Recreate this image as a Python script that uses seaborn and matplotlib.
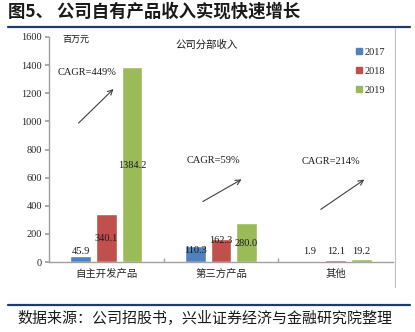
import matplotlib
matplotlib.use("Agg")
import matplotlib.pyplot as plt
import seaborn as sns
import pandas as pd
from matplotlib.lines import Line2D

# Segment revenue (million yuan)
categories = ["自主开发产品", "第三方产品", "其他"]
years = ["2017", "2018", "2019"]
rev_2017 = [45.9, 110.3, 1.9]
rev_2018 = [340.1, 162.3, 12.1]
rev_2019 = [1384.2, 280.0, 19.2]
cagr_labels = ["CAGR=449%", "CAGR=59%", "CAGR=214%"]
y_ticks = [0, 200, 400, 600, 800, 1000, 1200, 1400, 1600]

colors = ["#4F81BD", "#C0504D", "#9BBB59"]

rows = []
for yr, vals in zip(years, [rev_2017, rev_2018, rev_2019]):
    for cat, v in zip(categories, vals):
        rows.append({"类别": cat, "年份": yr, "收入": v})
df = pd.DataFrame(rows)

sns.set_theme(style="white")
plt.rcParams["font.family"] = ["Noto Sans CJK SC", "DejaVu Sans"]
serif = ["Liberation Serif", "Noto Sans CJK SC"]

fig = plt.figure(figsize=(4.15, 3.32), dpi=100)
ax = fig.add_axes([49 / 415, 1 - 262 / 332, 344 / 415, 225 / 332])

sns.barplot(data=df, x="类别", y="收入", hue="年份", order=categories,
            hue_order=years, palette=colors, width=0.67, gap=0.2,
            saturation=1, ax=ax, legend=False)

ax.set_xlim(-0.5, 2.5)
ax.set_ylim(0, 1600)
ax.set_yticks(y_ticks)
ax.set_yticklabels([str(t) for t in y_ticks], family=serif, fontsize=7.5)
ax.set_xticks(range(len(categories)))
ax.set_xticklabels(categories, fontsize=7.5)
ax.set_xticks([0.5, 1.5], minor=True)
ax.tick_params(axis="x", which="major", length=0, pad=5)
ax.tick_params(axis="x", which="minor", direction="in", length=3,
               color="#A0A0A0", bottom=True)
ax.tick_params(axis="y", which="major", direction="out", length=3,
               color="#A0A0A0", left=True, pad=2)
ax.set_xlabel("")
ax.set_ylabel("")
for side in ["top", "right"]:
    ax.spines[side].set_visible(False)
for side in ["left", "bottom"]:
    ax.spines[side].set_color("#A0A0A0")
    ax.spines[side].set_linewidth(1.0)

# Value labels: each bar's own value, placed per bar
label_y = [
    [45.9, 85, 78],      # 2017
    [170, 150, 78],      # 2018
    [683, 135, 78],      # 2019
]
label_va = [
    ["bottom", "center", "center"],
    ["center", "center", "center"],
    ["center", "center", "center"],
]
for hi, cont in enumerate(ax.containers):
    for ci, bar in enumerate(cont):
        cx = bar.get_x() + bar.get_width() / 2
        val = bar.get_height()
        ax.text(cx, label_y[hi][ci], f"{val:.1f}", ha="center",
                va=label_va[hi][ci], fontsize=7.5, family=serif,
                color="#1A1A1A")

# Growth annotations
cagr_text_pos = [(-0.17, 1351), (0.93, 725), (1.96, 718)]
arrow_from = [(-0.26, 974), (0.82, 420), (1.85, 363)]
arrow_to = [(0.08, 1244), (1.20, 597), (2.27, 597)]
for txt, tp, a0, a1 in zip(cagr_labels, cagr_text_pos, arrow_from, arrow_to):
    ax.text(tp[0], tp[1], txt, ha="center", va="center", fontsize=7.5,
            family=serif, color="#1A1A1A")
    ax.annotate("", xy=a1, xytext=a0,
                arrowprops=dict(arrowstyle="->", color="#404040", lw=0.8,
                                mutation_scale=9))

# Unit and chart subtitle
fig.text(76 / 415, 1 - 39 / 332, "百万元", ha="center", va="center",
         fontsize=6.5, color="#1A1A1A")
fig.text(207 / 415, 1 - 45 / 332, "公司分部收入", ha="center", va="center",
         fontsize=7.5, color="#1A1A1A")

# Legend
handles = [Line2D([0], [0], marker="s", linestyle="", markersize=4.5,
                  markerfacecolor=c, markeredgecolor=c) for c in colors]
fig.legend(handles, years, loc="upper left",
           bbox_to_anchor=(344 / 415, 1 - 38 / 332), frameon=False,
           prop={"family": serif, "size": 7.5}, handletextpad=0.1,
           labelspacing=0.95, handlelength=1.0)

# Page furniture: title, rules, chart frame, source
fig.text(8 / 415, 1 - 12 / 332, "图5、 公司自有产品收入实现快速增长",
         ha="left", va="center", fontsize=12.5, fontweight="bold",
         color="#1A1A1A")
fig.add_artist(Line2D([8 / 415, 410 / 415], [1 - 27 / 332, 1 - 27 / 332],
                      color="#1F3A6E", lw=1.6, transform=fig.transFigure))
fig.add_artist(Line2D([395 / 415, 395 / 415], [1 - 28 / 332, 1 - 287 / 332],
                      color="#BFBFBF", lw=0.8, transform=fig.transFigure))
fig.add_artist(Line2D([8 / 415, 410 / 415], [1 - 305 / 332, 1 - 305 / 332],
                      color="#1F3A6E", lw=1.6, transform=fig.transFigure))
fig.text(17 / 415, 1 - 318 / 332,
         "数据来源：公司招股书，兴业证券经济与金融研究院整理",
         ha="left", va="center", fontsize=10.8, color="#1A1A1A")

fig.savefig("out.png", dpi=100)
